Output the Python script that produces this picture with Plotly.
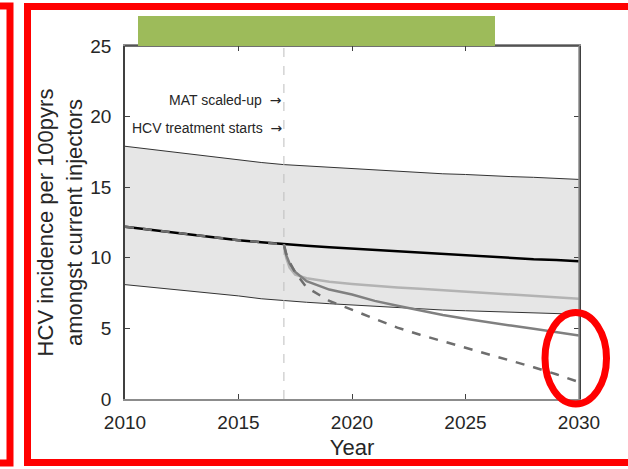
import plotly.graph_objects as go

# ---- data ----
years = list(range(2010, 2031))
upper = [17.9, 17.7, 17.5, 17.3, 17.1, 16.9, 16.75, 16.6, 16.5, 16.4, 16.3,
         16.2, 16.1, 16.0, 15.95, 15.9, 15.8, 15.75, 15.7, 15.6, 15.55]
lower = [8.1, 7.95, 7.8, 7.6, 7.45, 7.3, 7.1, 6.95, 6.85, 6.75, 6.65,
         6.55, 6.45, 6.35, 6.3, 6.25, 6.2, 6.15, 6.1, 6.05, 6.0]
median = [12.2, 12.0, 11.8, 11.6, 11.4, 11.25, 11.1, 10.95, 10.85, 10.75, 10.65,
          10.55, 10.45, 10.35, 10.25, 10.15, 10.05, 10.0, 9.9, 9.85, 9.75]

int_years = [2017, 2017.1, 2017.25, 2017.5, 2018, 2019, 2020, 2021, 2022,
             2023, 2024, 2025, 2026, 2027, 2028, 2029, 2030]
mat_only = [10.95, 10.0, 9.3, 8.8, 8.55, 8.3, 8.15, 8.0, 7.9,
            7.8, 7.7, 7.6, 7.5, 7.4, 7.3, 7.2, 7.1]
mat_hcv = [10.95, 10.2, 9.6, 9.0, 8.35, 7.75, 7.4, 6.95, 6.6,
           6.25, 5.95, 5.68, 5.42, 5.2, 4.97, 4.72, 4.5]
mat_hcv_scaled = [10.95, 10.3, 9.7, 8.95, 7.9, 6.95, 6.3, 5.65, 5.05,
                  4.55, 4.1, 3.62, 3.15, 2.7, 2.25, 1.75, 1.2]

start_year = 2017
x_ticks = [2010, 2015, 2020, 2025, 2030]
y_ticks = [0, 5, 10, 15, 20, 25]

# ---- layout geometry (pixels) ----
W, H = 628, 469
ML, MR, MT, MB = 125, 49, 46, 70
PW, PH = W - ML - MR, H - MT - MB


def px(x):
    return (x - ML) / PW


def py(y):
    return (H - MB - y) / PH


FONT = "Liberation Sans, Arial, sans-serif"
TXT = "#262626"
ARROW = "<span style='font-family:DejaVu Sans'>→</span>"

fig = go.Figure()

# uncertainty band
fig.add_trace(go.Scatter(x=years, y=lower, mode="lines",
                         line=dict(color="#333333", width=1), showlegend=False))
fig.add_trace(go.Scatter(x=years, y=upper, mode="lines", fill="tonexty",
                         fillcolor="#E6E6E6",
                         line=dict(color="#333333", width=1), showlegend=False))

# start of interventions
fig.add_trace(go.Scatter(x=[start_year, start_year], y=[0, 25], mode="lines",
                         line=dict(color="#BDBDBD", width=1, dash="dash"),
                         showlegend=False))

# status quo
fig.add_trace(go.Scatter(x=years, y=median, mode="lines",
                         line=dict(color="#000000", width=2.5), showlegend=False))

# intervention scenarios
fig.add_trace(go.Scatter(x=int_years, y=mat_only, mode="lines",
                         line=dict(color="#B3B3B3", width=2.5), showlegend=False))
fig.add_trace(go.Scatter(x=int_years, y=mat_hcv, mode="lines",
                         line=dict(color="#808080", width=2.5), showlegend=False))
pre = [y for y in years if y <= start_year]
fig.add_trace(go.Scatter(x=pre + int_years[1:],
                         y=median[:len(pre)] + mat_hcv_scaled[1:], mode="lines",
                         line=dict(color="#6E6E6E", width=2.5, dash="dash"),
                         showlegend=False))

shapes = [
    # axis box edges
    dict(type="line", xref="paper", yref="paper", x0=0, x1=1, y0=1, y1=1,
         line=dict(color="#404040", width=1.5), layer="above"),
    dict(type="line", xref="paper", yref="paper", x0=1, x1=1, y0=0, y1=1,
         line=dict(color="#8C8C8C", width=1.5), layer="above"),
    # green period bar
    dict(type="rect", xref="paper", yref="paper",
         x0=px(138), x1=px(495), y0=py(46), y1=py(16),
         fillcolor="#9DBB5A", line=dict(width=0), layer="above"),
    # red frames
    dict(type="rect", xref="paper", yref="paper",
         x0=px(-20), x1=px(10), y0=py(463), y1=py(6),
         line=dict(color="#FF0000", width=7), layer="above"),
    dict(type="rect", xref="paper", yref="paper",
         x0=px(27.5), x1=px(650), y0=py(462.5), y1=py(6.5),
         line=dict(color="#FF0000", width=7), layer="above"),
    # red ellipse
    dict(type="circle", xref="paper", yref="paper",
         x0=px(545), x1=px(606.5), y0=py(404), y1=py(312.5),
         line=dict(color="#FF0000", width=7), layer="above"),
]

annotations = [
    dict(x=start_year, y=py(100), xref="x", yref="paper",
         text="MAT scaled-up  " + ARROW, showarrow=False, xanchor="right",
         yanchor="middle", font=dict(family=FONT, size=14, color=TXT)),
    dict(x=start_year, y=py(128), xref="x", yref="paper",
         text="HCV treatment starts  " + ARROW, showarrow=False, xanchor="right",
         yanchor="middle", font=dict(family=FONT, size=14, color=TXT)),
]

fig.update_layout(
    width=W, height=H,
    margin=dict(l=ML, r=MR, t=MT, b=MB, pad=0),
    paper_bgcolor="white", plot_bgcolor="white",
    font=dict(family=FONT, color=TXT),
    showlegend=False,
    shapes=shapes,
    annotations=annotations,
    xaxis=dict(range=[2010, 2030], tickvals=x_ticks,
               ticks="inside", ticklen=5, tickcolor="#404040",
               showline=True, linecolor="#8C8C8C", linewidth=1.5, mirror="ticks",
               showgrid=False, zeroline=False,
               ticklabelstandoff=5,
               tickfont=dict(family=FONT, size=19, color=TXT),
               title=dict(text="Year", font=dict(family=FONT, size=22, color=TXT),
                          standoff=8)),
    yaxis=dict(range=[0, 25], tickvals=y_ticks,
               ticks="inside", ticklen=5, tickcolor="#404040",
               showline=True, linecolor="#404040", linewidth=1.5, mirror="ticks",
               showgrid=False, zeroline=False,
               tickfont=dict(family=FONT, size=19, color=TXT),
               ticklabelstandoff=8,
               title=dict(text="HCV incidence per 100pyrs<br>amongst current injectors",
                          font=dict(family=FONT, size=22, color=TXT), standoff=2)),
)

fig.write_html("out.html")
